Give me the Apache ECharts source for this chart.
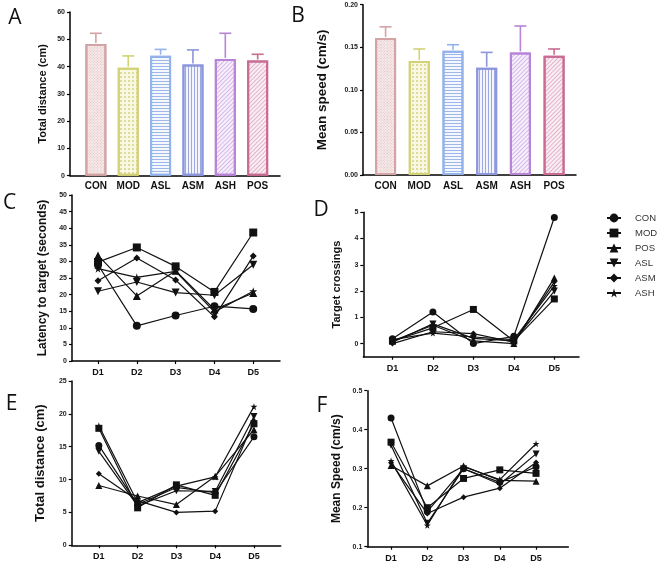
<!DOCTYPE html>
<html><head><meta charset="utf-8">
<script src="https://cdn.jsdelivr.net/npm/echarts@6/dist/echarts.min.js"></script>
<style>html,body{margin:0;padding:0;background:#fff}#c{width:658px;height:563px}</style>
</head><body><div id="c"></div>
<script>
// ---- data ----
const barCats = ['CON', 'MOD', 'ASL', 'ASM', 'ASH', 'POS'];
const distMean = [48.3, 39.6, 44.0, 40.8, 42.8, 42.2];
const distErr = [3.9, 4.3, 2.3, 5.3, 9.4, 2.3];
const speedMean = [0.161, 0.134, 0.146, 0.126, 0.144, 0.140];
const speedErr = [0.013, 0.014, 0.007, 0.018, 0.031, 0.008];

const days = ['D1', 'D2', 'D3', 'D4', 'D5'];
const groups = ['CON', 'MOD', 'POS', 'ASL', 'ASM', 'ASH'];

const latCON = [29.0, 10.6, 13.7, 16.5, 15.7];
const latMOD = [29.8, 34.2, 28.5, 20.8, 38.7];
const latPOS = [31.8, 19.6, 27.2, 15.5, 20.5];
const latASL = [21.0, 23.8, 20.6, 19.8, 29.0];
const latASM = [24.2, 31.0, 24.4, 13.3, 31.6];
const latASH = [27.8, 25.2, 27.0, 14.8, 21.0];

const crsCON = [0.18, 1.2, 0.0, 0.28, 4.8];
const crsMOD = [0.1, 0.6, 1.3, 0.1, 1.7];
const crsPOS = [0.1, 0.7, 0.1, 0.0, 2.5];
const crsASL = [0.05, 0.75, 0.2, 0.1, 2.0];
const crsASM = [0.0, 0.45, 0.38, 0.05, 2.35];
const crsASH = [0.15, 0.4, 0.25, 0.15, 2.2];

const dstCON = [15.2, 6.2, 8.8, 8.0, 16.5];
const dstMOD = [17.8, 5.7, 9.2, 7.6, 18.5];
const dstPOS = [9.1, 7.5, 6.2, 10.5, 17.6];
const dstASL = [14.3, 6.0, 8.3, 8.2, 19.6];
const dstASM = [10.9, 6.8, 5.0, 5.2, 18.9];
const dstASH = [18.2, 6.5, 9.0, 10.4, 21.1];

const spdCON = [0.43, 0.19, 0.30, 0.265, 0.305];
const spdMOD = [0.368, 0.20, 0.275, 0.297, 0.288];
const spdPOS = [0.308, 0.256, 0.307, 0.27, 0.268];
const spdASL = [0.36, 0.16, 0.30, 0.26, 0.338];
const spdASM = [0.315, 0.185, 0.227, 0.25, 0.316];
const spdASH = [0.32, 0.155, 0.305, 0.272, 0.364];

// ---- styles ----
const FONT = 'Liberation Sans, Arial, sans-serif';
const barBorder = ['#d4a3a3', '#d3d277', '#93b3ea', '#8c96dd', '#b784d8', '#c96b93'];
const barFill = ['#f6ebeb', '#f8f8e4', '#f4f7fd', '#f3f4fc', '#f7f0fb', '#f9eef3'];
const decals = [
  {symbol: 'rect', dashArrayX: [1, 1], dashArrayY: [1, 1], rotation: Math.PI / 4, color: 'rgba(200,140,140,0.45)'},
  {symbol: 'rect', dashArrayX: [2, 2], dashArrayY: [2, 2], color: 'rgba(200,198,90,0.55)'},
  {symbol: 'rect', dashArrayX: [1, 0], dashArrayY: [1, 2], color: 'rgba(120,155,225,0.7)'},
  {symbol: 'rect', dashArrayX: [1, 0], dashArrayY: [1, 2], rotation: Math.PI / 2, color: 'rgba(125,135,215,0.7)'},
  {symbol: 'rect', dashArrayX: [1, 0], dashArrayY: [1, 2], rotation: -Math.PI / 4, color: 'rgba(180,130,215,0.5)'},
  {symbol: 'rect', dashArrayX: [1, 0], dashArrayY: [1, 2], rotation: -Math.PI / 4, color: 'rgba(200,110,150,0.45)'}
];
const symbols = {
  CON: {symbol: 'circle'},
  MOD: {symbol: 'rect'},
  POS: {symbol: 'triangle'},
  ASL: {symbol: 'path://M0,0 L10,0 L5,9 Z'},
  ASM: {symbol: 'diamond'},
  ASH: {symbol: 'path://M50,0 L61,35 L98,35 L68,57 L79,91 L50,70 L21,91 L32,57 L2,35 L39,35 Z'}
};

const grids = [
  {left: 70, top: 12, width: 210, height: 163.7},
  {left: 363, top: 4.7, width: 213, height: 170.3},
  {left: 72, top: 195, width: 208, height: 166},
  {left: 363.3, top: 212.3, width: 215.7, height: 144.4},
  {left: 71.7, top: 381, width: 209, height: 164.3},
  {left: 367.3, top: 390.7, width: 201, height: 156}
];

const axisLineStyle = {color: '#000', width: 1.5};

function xBar(gi, min, max) {
  return {
    gridIndex: gi, type: 'value', min: min, max: max,
    axisLine: {show: true, onZero: false, lineStyle: axisLineStyle},
    axisTick: {show: false}, splitLine: {show: false},
    axisLabel: {customValues: [1, 2, 3, 4, 5, 6], formatter: v => barCats[Math.round(v) - 1],
      fontFamily: FONT, fontWeight: 'bold', fontSize: 10, color: '#111', margin: 6}
  };
}
function xDay(gi, min, max) {
  return {
    gridIndex: gi, type: 'value', min: min, max: max,
    axisLine: {show: true, onZero: false, lineStyle: axisLineStyle},
    axisTick: {show: true, customValues: [1, 2, 3, 4, 5], length: 3, lineStyle: {color: '#000', width: 1.2}},
    splitLine: {show: false},
    axisLabel: {customValues: [1, 2, 3, 4, 5], formatter: v => days[Math.round(v) - 1],
      fontFamily: FONT, fontWeight: 'bold', fontSize: 9, color: '#111', margin: 7}
  };
}
function yAx(gi, opt) {
  const o = {
    gridIndex: gi, type: 'value', min: opt.min, max: opt.max,
    axisLine: {show: true, onZero: false, lineStyle: axisLineStyle},
    axisTick: {show: true, length: 3, lineStyle: {color: '#000', width: 1.2}},
    splitLine: {show: false},
    axisLabel: {fontFamily: FONT, fontWeight: 'bold', fontSize: 7, color: '#222', margin: 5,
      formatter: opt.fmt || (v => String(v))},
    name: opt.name, nameLocation: 'middle', nameGap: opt.gap,
    nameTextStyle: {fontFamily: FONT, fontWeight: 'bold', fontSize: opt.fs, color: '#111'}
  };
  if (opt.interval != null) o.interval = opt.interval;
  if (opt.custom) {
    o.axisLabel.customValues = opt.custom;
    o.axisTick.customValues = opt.custom;
  }
  return o;
}

const xAxis = [
  xBar(0, 0.2, 6.69),
  xBar(1, 0.33, 6.65),
  xDay(2, 0.33, 5.69),
  xDay(3, 0.28, 5.61),
  xDay(4, 0.3, 5.69),
  xDay(5, 0.345, 5.89)
];
const yAxis = [
  yAx(0, {min: 0, max: 60, interval: 10, name: 'Total distance (cm)', gap: 22, fs: 11}),
  yAx(1, {min: 0, max: 0.2, interval: 0.05, name: 'Mean speed (cm/s)', gap: 34, fs: 13.5, fmt: v => v.toFixed(2)}),
  yAx(2, {min: 0, max: 50, interval: 5, name: 'Latency to target (seconds)', gap: 23, fs: 12}),
  yAx(3, {min: -0.5, max: 5, custom: [0, 1, 2, 3, 4, 5], name: 'Target crossings', gap: 21, fs: 11, fmt: v => String(Math.round(v))}),
  yAx(4, {min: 0, max: 25, interval: 5, name: 'Total distance (cm)', gap: 25, fs: 13}),
  yAx(5, {min: 0.1, max: 0.5, interval: 0.1, name: 'Mean Speed (cm/s)', gap: 25, fs: 12, fmt: v => v.toFixed(1)})
];

const series = [];
function addBars(idx, means, errs) {
  series.push({
    type: 'bar', xAxisIndex: idx, yAxisIndex: idx, barWidth: 21, z: 2,
    data: means.map((v, i) => ({
      value: [i + 1, v],
      itemStyle: {color: barFill[i], borderColor: barBorder[i], borderWidth: 2, decal: decals[i]}
    }))
  });
  series.push({
    type: 'custom', xAxisIndex: idx, yAxisIndex: idx, z: 3,
    data: means.map((v, i) => [i + 1, v, v + errs[i]]),
    renderItem: (params, api) => {
      const x = api.value(0);
      const p0 = api.coord([x, api.value(1)]);
      const p1 = api.coord([x, api.value(2)]);
      const c = barBorder[params.dataIndex];
      return {type: 'group', children: [
        {type: 'line', shape: {x1: p0[0], y1: p0[1] - 1, x2: p1[0], y2: p1[1]}, style: {stroke: c, lineWidth: 1.6}},
        {type: 'line', shape: {x1: p1[0] - 6, y1: p1[1], x2: p1[0] + 6, y2: p1[1]}, style: {stroke: c, lineWidth: 1.6}}
      ]};
    }
  });
}
addBars(0, distMean, distErr);
addBars(1, speedMean, speedErr);

const panels = [
  {idx: 2, size: 8, data: {CON: latCON, MOD: latMOD, POS: latPOS, ASL: latASL, ASM: latASM, ASH: latASH}},
  {idx: 3, size: 7, data: {CON: crsCON, MOD: crsMOD, POS: crsPOS, ASL: crsASL, ASM: crsASM, ASH: crsASH}},
  {idx: 4, size: 7, data: {CON: dstCON, MOD: dstMOD, POS: dstPOS, ASL: dstASL, ASM: dstASM, ASH: dstASH}},
  {idx: 5, size: 7, data: {CON: spdCON, MOD: spdMOD, POS: spdPOS, ASL: spdASL, ASM: spdASM, ASH: spdASH}}
];
panels.forEach(p => {
  groups.forEach(g => {
    let sz = p.size;
    if (g === 'ASM') sz = p.size - 1;
    series.push({
      type: 'line', name: g, xAxisIndex: p.idx, yAxisIndex: p.idx,
      data: p.data[g].map((v, i) => [i + 1, v]),
      symbol: symbols[g].symbol, symbolSize: sz, showSymbol: true,
      lineStyle: {color: '#111', width: 1.2}, itemStyle: {color: '#111'},
      emphasis: {disabled: true}, animation: false
    });
  });
});

const letters = [
  ['A', 15, 18], ['B', 298, 16.5], ['C', 9.5, 203.5], ['D', 321, 210],
  ['E', 11.5, 404], ['F', 322, 406.5]
];

const chart = echarts.init(document.getElementById('c'), null, {renderer: 'canvas'});
chart.setOption({
  animation: false,
  backgroundColor: '#fff',
  grid: grids,
  xAxis: xAxis,
  yAxis: yAxis,
  legend: {
    orient: 'vertical', left: 606, top: 213, padding: 0, data: groups, selectedMode: false,
    itemWidth: 14, itemHeight: 11, itemGap: 5,
    textStyle: {fontFamily: FONT, fontSize: 9.5, color: '#333', padding: [0, 0, 0, 9]}
  },
  graphic: letters.map(l => ({
    type: 'text', x: l[1], y: l[2],
    style: {text: l[0], fontFamily: 'Open Sans', fontSize: 21, fill: '#111', align: 'center', verticalAlign: 'middle'}
  })),
  series: series
});
</script></body></html>
